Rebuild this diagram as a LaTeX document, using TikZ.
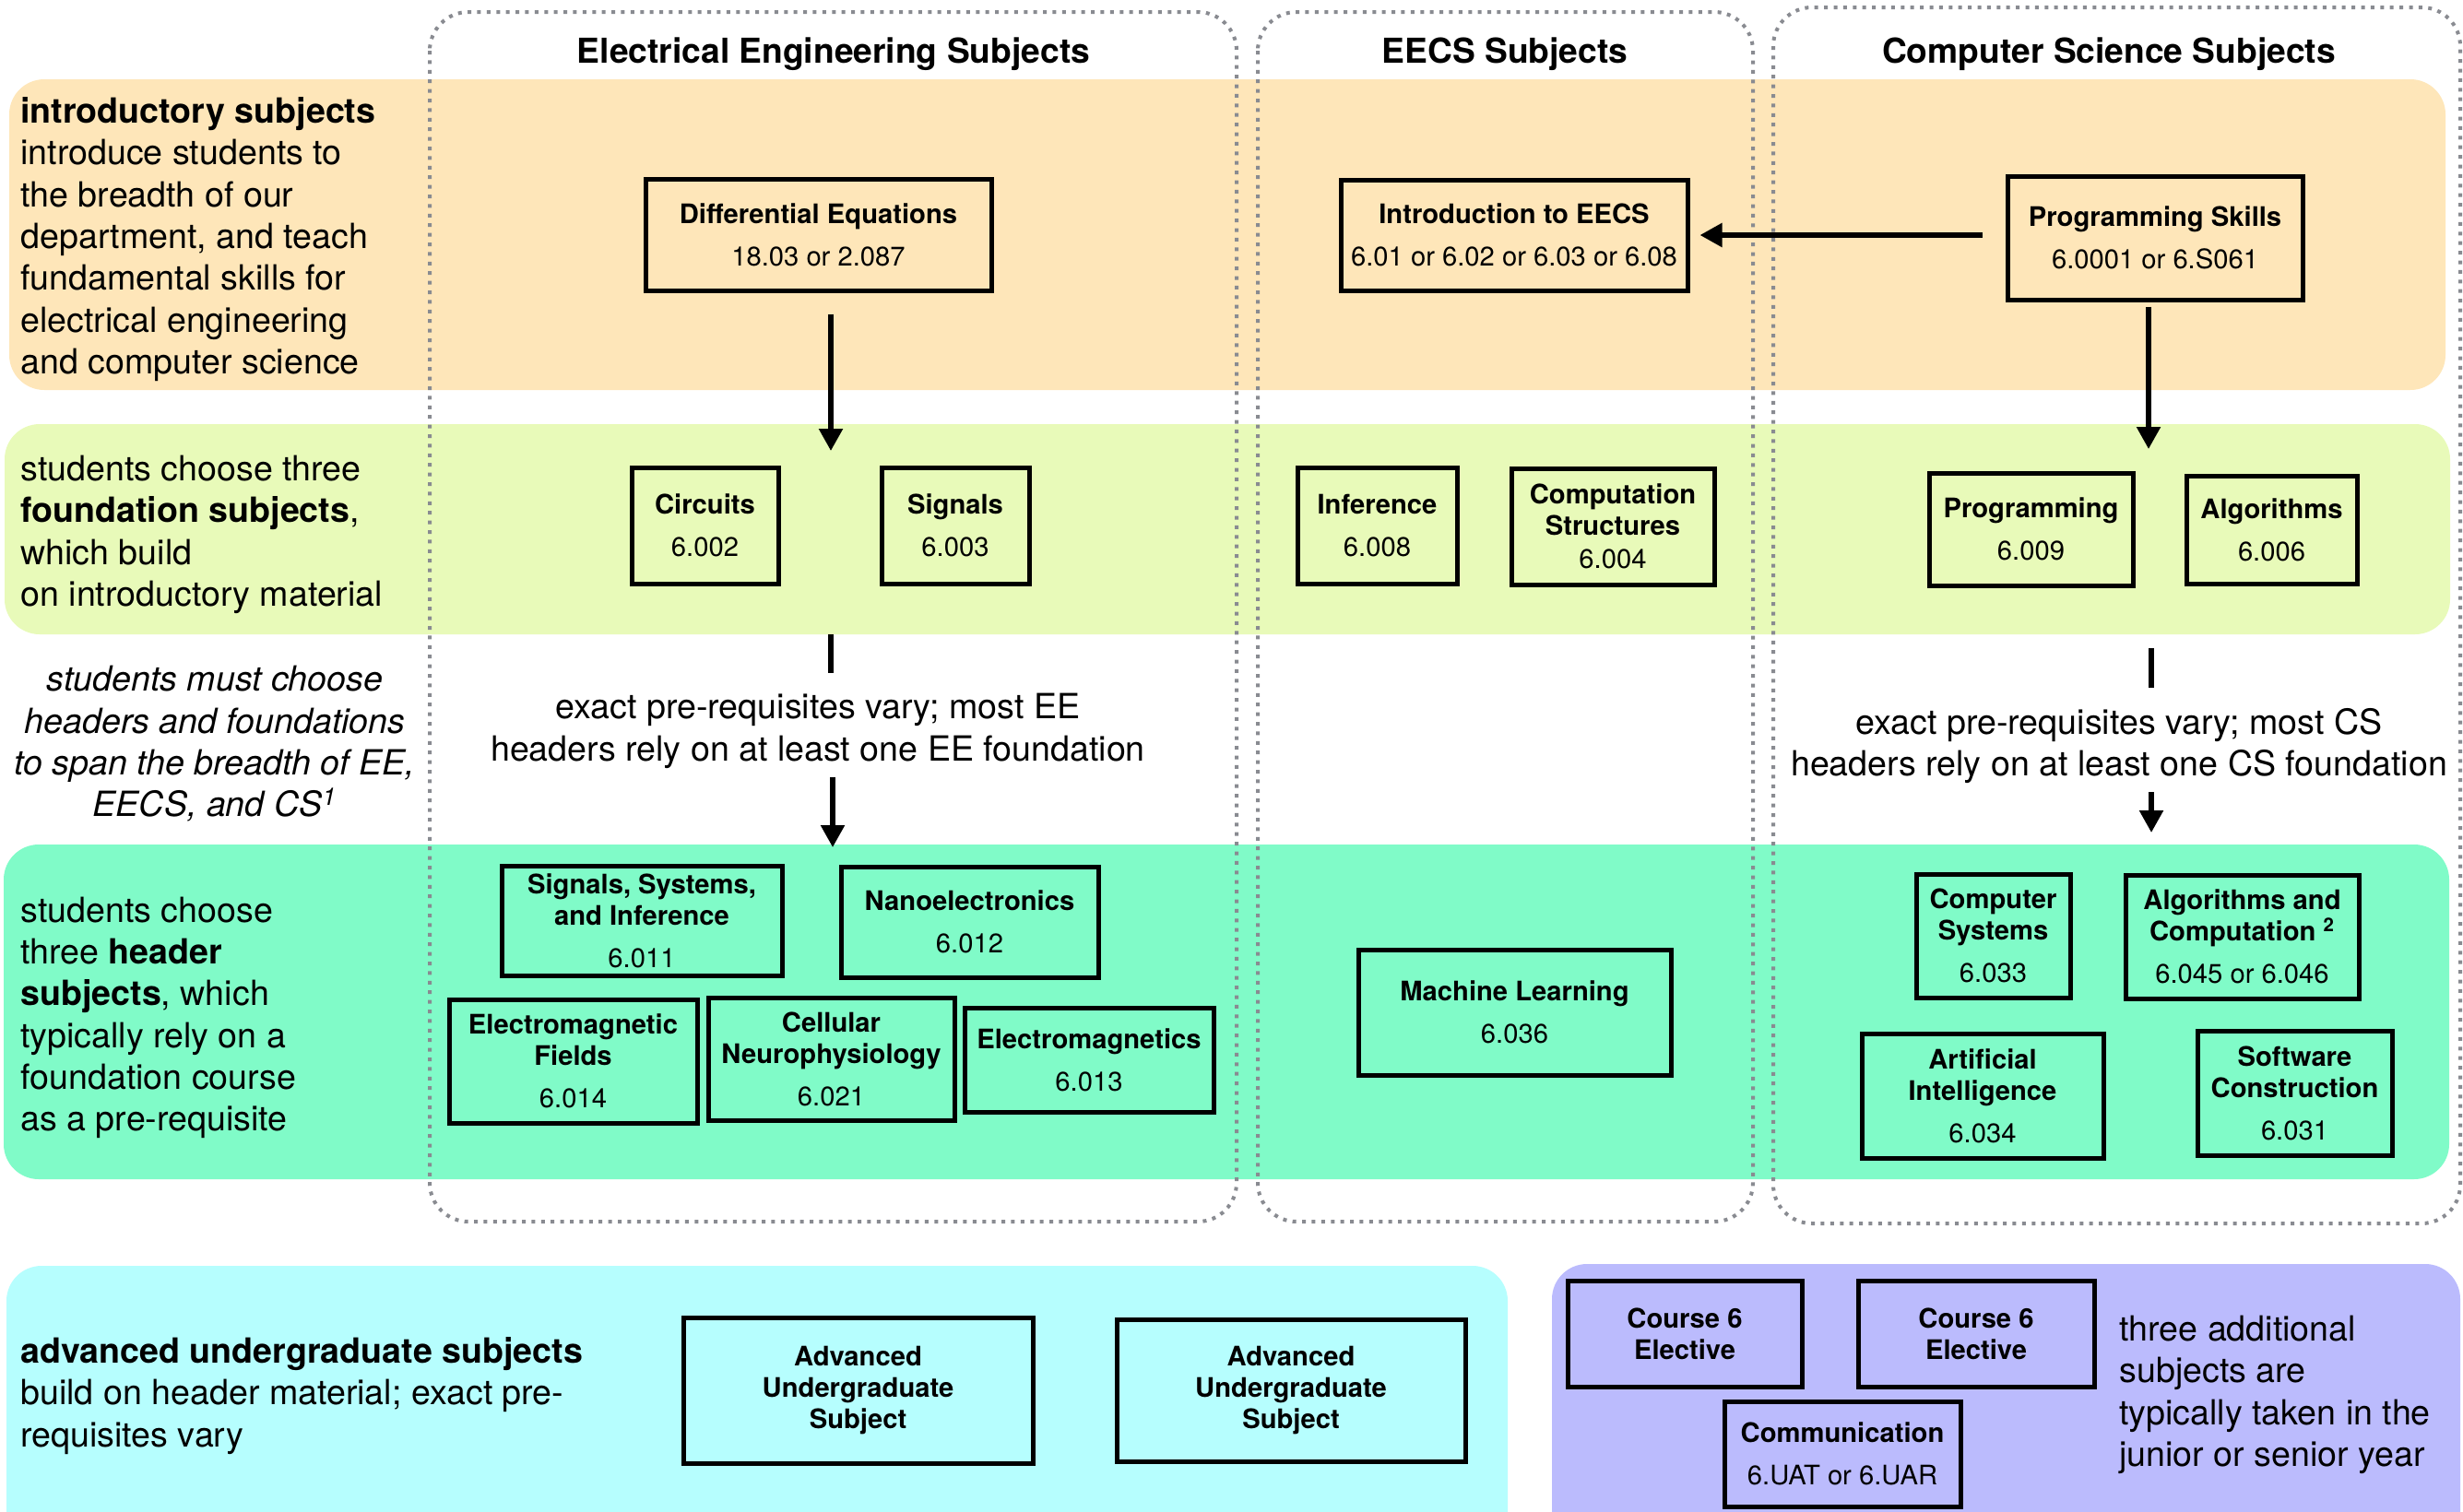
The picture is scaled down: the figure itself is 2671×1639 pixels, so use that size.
\documentclass[tikz,border=0pt]{standalone}
\usepackage{fontspec}
\setmainfont{TeX Gyre Heros}
\usetikzlibrary{arrows.meta}
\definecolor{introC}{RGB}{254,230,185}
\definecolor{foundC}{RGB}{232,250,185}
\definecolor{headC}{RGB}{128,251,200}
\definecolor{advC}{RGB}{182,254,254}
\definecolor{extraC}{RGB}{187,187,253}
\definecolor{frameC}{RGB}{137,139,145}
\begin{document}
\begin{tikzpicture}[x=0.5pt,y=-0.5pt,
  band/.style={rounded corners=19pt},
  colframe/.style={draw=frameC,line width=2pt,dash pattern=on 2pt off 3.2pt,rounded corners=21pt},
  coltitle/.style={inner sep=0pt,font=\fontsize{18.6}{22}\selectfont\bfseries},
  course/.style={draw,line width=2.5pt,align=center,inner sep=2pt,font=\fontsize{14.6}{17}\selectfont},
  desc/.style={align=left,inner sep=0pt,anchor=west,font=\fontsize{18.8}{22.65}\selectfont},
  note/.style={align=center,inner sep=0pt,font=\fontsize{18.8}{22.65}\selectfont},
  conn/.style={line width=2.7pt,-{Triangle[length=12pt,width=12.5pt]}},
  stub/.style={line width=2.7pt}]
\useasboundingbox (0,0) rectangle (2671,1639);
\clip (0,0) rectangle (2671,1639);

% bands
\fill[introC,band] (10,86) rectangle (2652,423);
\fill[foundC,band] (5,460) rectangle (2657,688);
\fill[headC,band] (4,916) rectangle (2656,1279);
\fill[advC,band] (7,1373) rectangle (1635,1720);
\fill[extraC,band] (1683,1371) rectangle (2668,1720);

% column frames
\draw[colframe] (466,13) rectangle (1341,1325);
\draw[colframe] (1364,13) rectangle (1901,1325);
\draw[colframe] (1923,8) rectangle (2668,1327);

\node[coltitle] (tEE) at (904,59) {Electrical Engineering Subjects};
\node[coltitle] (tEECS) at (1632,59) {EECS Subjects};
\node[coltitle] (tCS) at (2287,59) {Computer Science Subjects};

% introductory
\node[course,minimum width=187.5pt,minimum height=60.5pt] (de) at (887.5,254.5) {\textbf{Differential Equations}\\[6pt]18.03 or 2.087};
\node[course,minimum width=188pt,minimum height=60pt] (intro) at (1642,255) {\textbf{Introduction to EECS}\\[6pt]6.01 or 6.02 or 6.03 or 6.08};
\node[course,minimum width=160pt,minimum height=67pt] (ps) at (2337,258) {\textbf{Programming Skills}\\[6pt]6.0001 or 6.S061};

% foundation
\node[course,minimum width=79.5pt,minimum height=63pt] (circ) at (764.5,570) {\textbf{Circuits}\\[6pt]6.002};
\node[course,minimum width=80pt,minimum height=63pt] (sig) at (1036,570) {\textbf{Signals}\\[6pt]6.003};
\node[course,minimum width=86.5pt,minimum height=63pt] (inf) at (1493.5,570) {\textbf{Inference}\\[6pt]6.008};
\node[course,minimum width=110pt,minimum height=63pt] (cstr) at (1749,571) {\textbf{Computation}\\\textbf{Structures}\\[1pt]6.004};
\node[course,minimum width=110.5pt,minimum height=61pt] (prog) at (2202.5,574) {\textbf{Programming}\\[6pt]6.009};
\node[course,minimum width=92.5pt,minimum height=58.5pt] (alg) at (2463.5,574.5) {\textbf{Algorithms}\\[6pt]6.006};

% header
\node[course,minimum width=152pt,minimum height=59.5pt] (ssi) at (696,998.5) {\textbf{Signals, Systems,}\\\textbf{and Inference}\\[6pt]6.011};
\node[course,minimum width=139.5pt,minimum height=60pt] (nano) at (1051.5,1000) {\textbf{Nanoelectronics}\\[6pt]6.012};
\node[course,minimum width=134.5pt,minimum height=67pt] (emf) at (621.5,1151) {\textbf{Electromagnetic}\\\textbf{Fields}\\[6pt]6.014};
\node[course,minimum width=133.5pt,minimum height=66.5pt] (cell) at (901.5,1148.5) {\textbf{Cellular}\\\textbf{Neurophysiology}\\[6pt]6.021};
\node[course,minimum width=135pt,minimum height=56.5pt] (em) at (1181,1149.5) {\textbf{Electromagnetics}\\[6pt]6.013};
\node[course,minimum width=169.5pt,minimum height=68pt] (ml) at (1642.5,1098) {\textbf{Machine Learning}\\[6pt]6.036};
\node[course,minimum width=83.5pt,minimum height=67pt] (csys) at (2161.5,1015) {\textbf{Computer}\\\textbf{Systems}\\[6pt]6.033};
\node[course,minimum width=126.5pt,minimum height=67pt] (algc) at (2431.5,1016) {\textbf{Algorithms and}\\\textbf{Computation \textsuperscript{2}}\\[6pt]6.045 or 6.046};
\node[course,minimum width=131pt,minimum height=67.5pt] (ai) at (2150,1188.5) {\textbf{Artificial}\\\textbf{Intelligence}\\[6pt]6.034};
\node[course,minimum width=105.5pt,minimum height=67.5pt] (swc) at (2488.5,1185.5) {\textbf{Software}\\\textbf{Construction}\\[6pt]6.031};

% advanced and extra
\node[course,minimum width=189.5pt,minimum height=79pt] (adv1) at (930.5,1508) {\textbf{Advanced}\\\textbf{Undergraduate}\\\textbf{Subject}};
\node[course,minimum width=189pt,minimum height=77pt] (adv2) at (1400,1508) {\textbf{Advanced}\\\textbf{Undergraduate}\\\textbf{Subject}};
\node[course,minimum width=127pt,minimum height=57.5pt] (c6a) at (1827,1446.5) {\textbf{Course 6}\\\textbf{Elective}};
\node[course,minimum width=128pt,minimum height=57.5pt] (c6b) at (2143,1446.5) {\textbf{Course 6}\\\textbf{Elective}};
\node[course,minimum width=128pt,minimum height=57pt] (comm) at (1998,1577) {\textbf{Communication}\\[6pt]6.UAT or 6.UAR};

% descriptions
\node[desc] (dIntro) at (22,259.5) {\textbf{introductory subjects}\\introduce students to\\the breadth of our\\department, and teach\\fundamental skills for\\electrical engineering\\and computer science};
\node[desc] (dFound) at (22,580) {students choose three\\\textbf{foundation subjects},\\which build\\on introductory material};
\node[note,font=\fontsize{18.8}{22.65}\selectfont\itshape] (dSpan) at (233,807) {students must choose\\headers and foundations\\to span the breadth of EE,\\EECS, and CS\textsuperscript{1}};
\node[desc] (dHead) at (22,1104) {students choose\\three \textbf{header}\\\textbf{subjects}, which\\typically rely on a\\foundation course\\as a pre-requisite};
\node[desc] (dAdv) at (22,1514) {\textbf{advanced undergraduate subjects}\\build on header material; exact pre-\\requisites vary};
\node[desc] (dExtra) at (2298,1513) {three additional\\subjects are\\typically taken in the\\junior or senior year};
\node[note] (nEE) at (887,793) {exact pre-requisites vary; most EE\\headers rely on at least one EE foundation};
\node[note] (nCS) at (2298,809) {exact pre-requisites vary; most CS\\headers rely on at least one CS foundation};

% connectors
\coordinate (eeF) at (901,489);
\coordinate (csF) at (2330,487);
\draw[conn,shorten <=11.5pt] (de.south -| eeF) -- (eeF);
\draw[conn,shorten <=2.5pt] (ps.south -| csF) -- (csF);
\draw[conn,shorten <=12.5pt,shorten >=5.5pt] (ps.west |- intro.east) -- (intro.east);

\coordinate (eeS1) at (901,688);
\coordinate (eeS2) at (901,730);
\coordinate (eeH1) at (903,843);
\coordinate (eeH2) at (903,919);
\draw[stub] (eeS1) -- (eeS2);
\draw[conn] (eeH1) -- (eeH2);

\coordinate (csS1) at (2333,703);
\coordinate (csS2) at (2333,746);
\coordinate (csH1) at (2333,859);
\coordinate (csH2) at (2333,903);
\draw[stub] (csS1) -- (csS2);
\draw[conn] (csH1) -- (csH2);
\end{tikzpicture}
\end{document}
